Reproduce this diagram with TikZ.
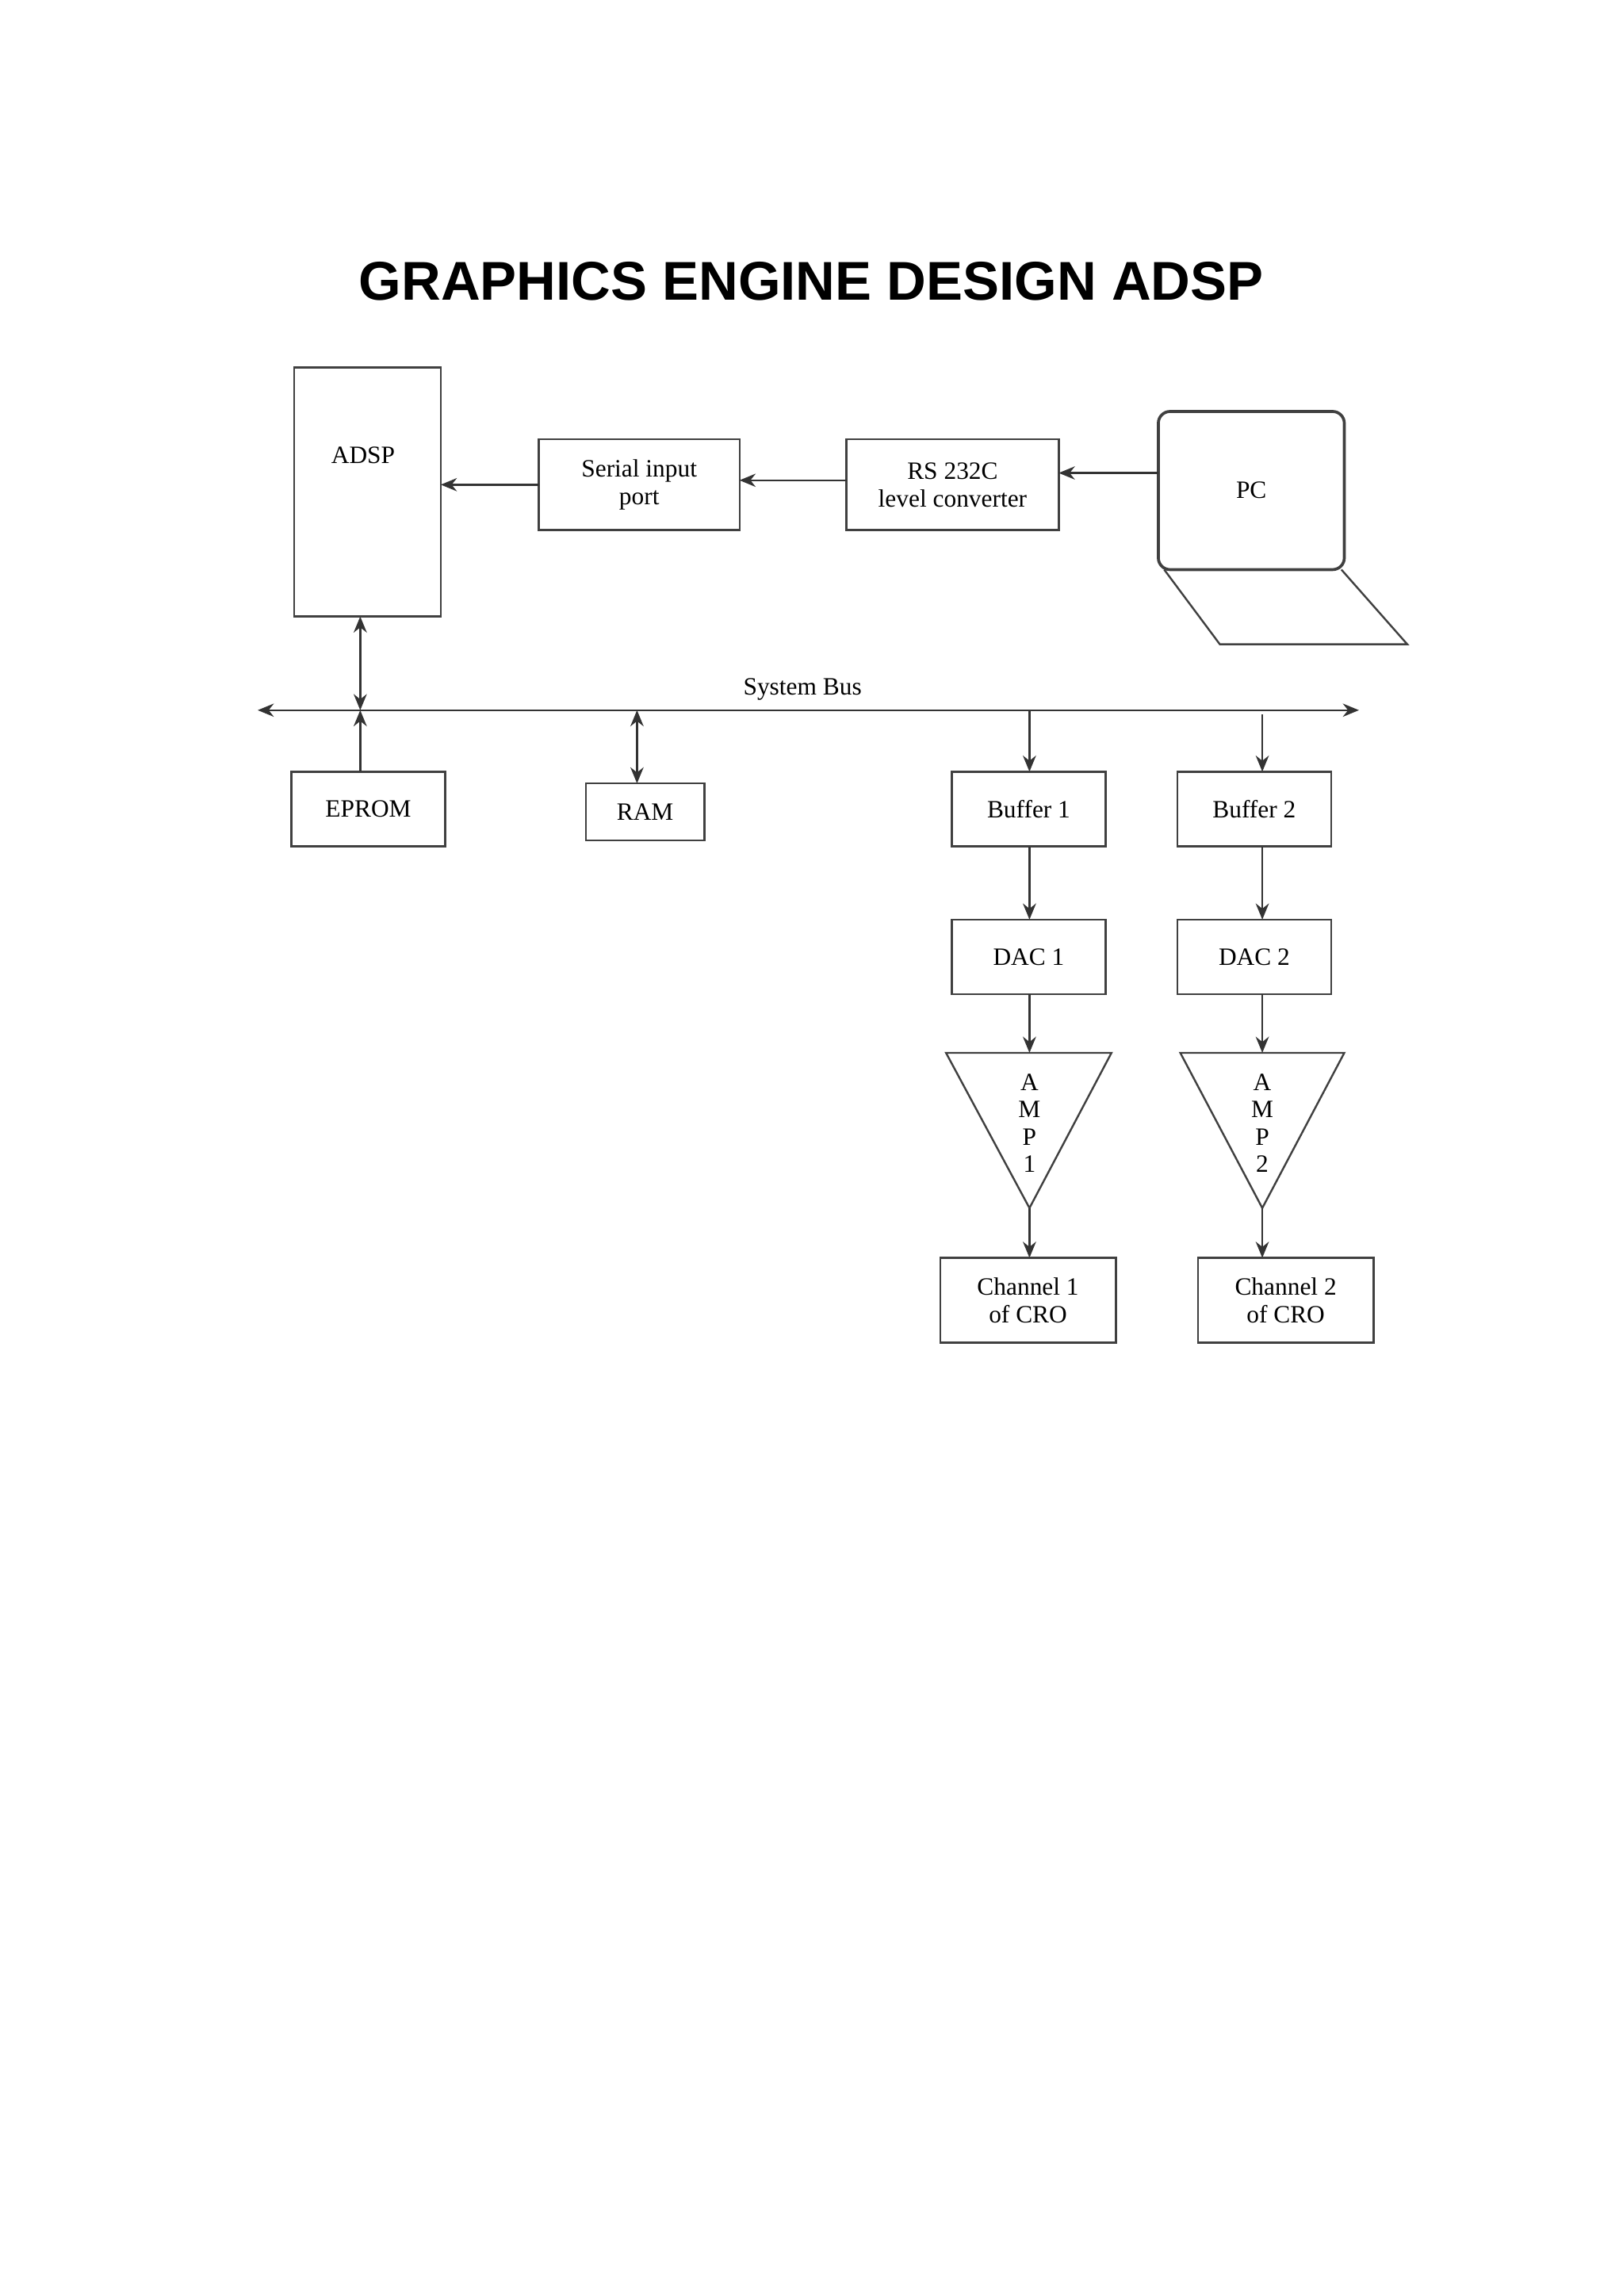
\documentclass[tikz,border=0pt]{standalone}
\usepackage{fontspec}
\setmainfont{Liberation Serif}
\newfontfamily\titlefont{Liberation Sans}
\usetikzlibrary{arrows.meta}
\begin{document}
\begin{tikzpicture}[x=1pt,y=-1pt,
  box/.style={draw=black!75,line width=1.3pt,inner sep=0pt,font=\fontsize{17}{19}\selectfont,align=center},
  arr/.style={-{Stealth[length=11pt,width=9pt]},line width=1.3pt,black!80},
  darr/.style={{Stealth[length=11pt,width=9pt]}-{Stealth[length=11pt,width=9pt]},line width=1.3pt,black!80},
  txt/.style={font=\fontsize{17}{19}\selectfont}]
\useasboundingbox (0,0) rectangle (1108,1568);
\fill[white] (0,0) rectangle (1108,1568);
\node[font=\titlefont\bfseries\fontsize{37.3}{41}\selectfont] (title) at (554,192) {GRAPHICS ENGINE DESIGN ADSP};
% boxes
\node[box,minimum width=100pt,minimum height=170pt] (adsp) at (251,336) {};
\node[txt] (adspl) at (248,311) {ADSP};
\node[box,minimum width=137pt,minimum height=62pt] (sip) at (436.5,331) {Serial input\\port};
\node[box,minimum width=145pt,minimum height=62pt] (rs) at (650.5,331) {RS 232C\\level converter};
\node[box,rounded corners=8pt,line width=2pt,minimum width=127pt,minimum height=108pt] (pc) at (854.5,335) {PC};
\draw[black!75,line width=1.3pt] (795,389) -- (833,440) -- (961,440) -- (916,389);
\coordinate (pcin) at (791,323);
\coordinate (rsin) at (723,323);
\coordinate (rsout) at (578,328);
\coordinate (sipin) at (505,328);
\coordinate (sipout) at (368,331);
\coordinate (adspin) at (301,331);
\draw[arr] (pcin) -- (rsin);
\draw[arr] (rsout) -- (sipin);
\draw[arr] (sipout) -- (adspin);
% bus
\coordinate (busl) at (176,485);
\coordinate (busr) at (928,485);
\draw[darr] (busl) -- (busr);
\node[txt] (buslabel) at (548,471) {System Bus};
\coordinate (b1) at (246,485);
\coordinate (b2) at (435,485);
\coordinate (b3) at (703,485);
\coordinate (b4) at (862,488);
\node[box,minimum width=105pt,minimum height=51pt] (eprom) at (251.5,552.5) {EPROM};
\node[box,minimum width=81pt,minimum height=39pt] (ram) at (440.5,554.5) {RAM};
\node[box,minimum width=105pt,minimum height=51pt] (buf1) at (702.5,552.5) {Buffer 1};
\node[box,minimum width=105pt,minimum height=51pt] (buf2) at (856.5,552.5) {Buffer 2};
\node[box,minimum width=105pt,minimum height=51pt] (dac1) at (702.5,653.5) {DAC 1};
\node[box,minimum width=105pt,minimum height=51pt] (dac2) at (856.5,653.5) {DAC 2};
\draw[darr] (246,421) -- (b1);
\draw[arr] (246,527) -- (b1);
\draw[darr] (b2) -- (435,535);
\draw[arr] (b3) -- (703,527);
\draw[arr] (b4) -- (862,527);
\draw[arr] (703,578) -- (703,628);
\draw[arr] (862,578) -- (862,628);
% amps
\draw[black!75,line width=1.3pt] (646,719) -- (759,719) -- (703,825) -- cycle;
\draw[black!75,line width=1.3pt] (806,719) -- (918,719) -- (862,825) -- cycle;
\node[txt,align=center,font=\fontsize{17}{18.5}\selectfont] (amp1) at (703,767) {A\\M\\P\\1};
\node[txt,align=center,font=\fontsize{17}{18.5}\selectfont] (amp2) at (862,767) {A\\M\\P\\2};
\draw[arr] (703,679) -- (703,719);
\draw[arr] (862,679) -- (862,719);
\node[box,minimum width=120pt,minimum height=58pt] (ch1) at (702,888) {Channel 1\\of CRO};
\node[box,minimum width=120pt,minimum height=58pt] (ch2) at (878,888) {Channel 2\\of CRO};
\draw[arr] (703,825) -- (703,859);
\draw[arr] (862,825) -- (862,859);
\end{tikzpicture}
\end{document}
